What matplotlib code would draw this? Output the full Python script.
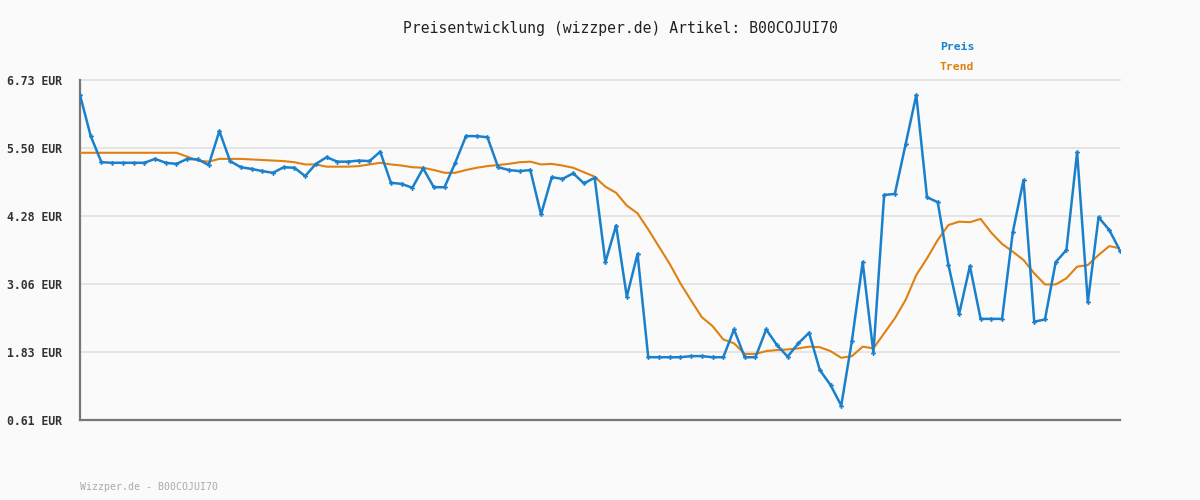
import matplotlib
matplotlib.use("Agg")
import matplotlib.pyplot as plt
import numpy as np

title = "Preisentwicklung (wizzper.de) Artikel: B00COJUI70"
footer = "Wizzper.de - B00COJUI70"
y_ticks = [0.61, 1.83, 3.06, 4.28, 5.50, 6.73]
y_tick_labels = ["0.61 EUR", "1.83 EUR", "3.06 EUR", "4.28 EUR", "5.50 EUR", "6.73 EUR"]

preis = [
    6.46, 5.72, 5.25, 5.24, 5.24, 5.24, 5.24, 5.31, 5.24, 5.22,
    5.31, 5.30, 5.20, 5.81, 5.27, 5.16, 5.13, 5.09, 5.06, 5.16,
    5.15, 5.00, 5.22, 5.34, 5.26, 5.26, 5.28, 5.27, 5.44, 4.88,
    4.86, 4.79, 5.14, 4.80, 4.80, 5.24, 5.72, 5.72, 5.70, 5.16,
    5.11, 5.09, 5.11, 4.31, 4.98, 4.95, 5.05, 4.87, 4.97, 3.45,
    4.11, 2.83, 3.60, 1.74, 1.74, 1.74, 1.74, 1.76, 1.76, 1.74,
    1.74, 2.24, 1.74, 1.74, 2.24, 1.96, 1.75, 1.99, 2.18, 1.51,
    1.24, 0.87, 2.04, 3.45, 1.82, 4.66, 4.68, 5.57, 6.46, 4.62,
    4.53, 3.40, 2.52, 3.38, 2.43, 2.43, 2.43, 3.99, 4.93, 2.38,
    2.42, 3.45, 3.67, 5.43, 2.73, 4.26, 4.03, 3.66,
]

trend = [
    5.42, 5.42, 5.42, 5.42, 5.42, 5.42, 5.42, 5.42, 5.42, 5.42,
    5.35, 5.28, 5.26, 5.31, 5.31, 5.31, 5.30, 5.29, 5.28, 5.27,
    5.25, 5.21, 5.21, 5.17, 5.17, 5.17, 5.18, 5.21, 5.24, 5.21,
    5.19, 5.16, 5.15, 5.11, 5.06, 5.06, 5.11, 5.15, 5.18, 5.20,
    5.22, 5.25, 5.26, 5.21, 5.22, 5.19, 5.15, 5.07, 4.99, 4.81,
    4.70, 4.47, 4.33, 4.04, 3.73, 3.42, 3.07, 2.76, 2.46, 2.30,
    2.06, 1.99, 1.80, 1.80, 1.85, 1.87, 1.88, 1.90, 1.93, 1.92,
    1.85, 1.73, 1.76, 1.93, 1.90, 2.17, 2.44, 2.77, 3.22, 3.52,
    3.85, 4.12, 4.18, 4.17, 4.23, 3.98, 3.78, 3.64, 3.49, 3.25,
    3.05, 3.05, 3.16, 3.37, 3.40, 3.58, 3.74, 3.70,
]

blue = "#1a80cc"
orange = "#e08010"
bg = "#fafafa"
mono = ["DejaVu Sans Mono"]

fig = plt.figure(figsize=(12, 5), dpi=100, facecolor=bg)
ax = fig.add_axes([80/1200, 1 - 420/500, 1040/1200, 340/500])
ax.set_facecolor(bg)

x = np.arange(len(preis))
ax.plot(x, trend, color=orange, lw=1.5, zorder=3)
ax.plot(x, preis, color=blue, lw=1.8, marker="P", markersize=3.5,
        markeredgewidth=0, zorder=4)

ax.set_xlim(0, len(preis) - 1)
ax.set_ylim(y_ticks[0], y_ticks[-1])
ax.set_yticks(y_ticks)
ax.set_yticklabels(y_tick_labels, family=mono, fontsize=8.3,
                   fontweight="bold", color="#333333")
ax.set_xticks([])
ax.tick_params(axis="y", length=0, pad=13)
ax.grid(axis="y", color="#e3e3e3", lw=1.3)
ax.set_axisbelow(True)
for s in ["top", "right"]:
    ax.spines[s].set_visible(False)
for s in ["left", "bottom"]:
    ax.spines[s].set_color("#777777")
    ax.spines[s].set_linewidth(1.6)
ax.axhline(y_ticks[-1], color="#e3e3e3", lw=1.3, zorder=0, clip_on=False)

fig.text(403/1200, 1 - 28/500, title, family=mono, fontsize=10.6,
         color="#222222", ha="left", va="center")
fig.text(940/1200, 1 - 47/500, "Preis", family=mono, fontsize=8.2,
         fontweight="bold", color=blue, ha="left", va="center")
fig.text(940/1200, 1 - 67/500, "Trend", family=mono, fontsize=8.2,
         fontweight="bold", color=orange, ha="left", va="center")
fig.text(80/1200, 1 - 487/500, footer, family=mono, fontsize=7.1,
         color="#aaaaaa", ha="left", va="center")

fig.savefig("out.png", dpi=100, facecolor=bg)
